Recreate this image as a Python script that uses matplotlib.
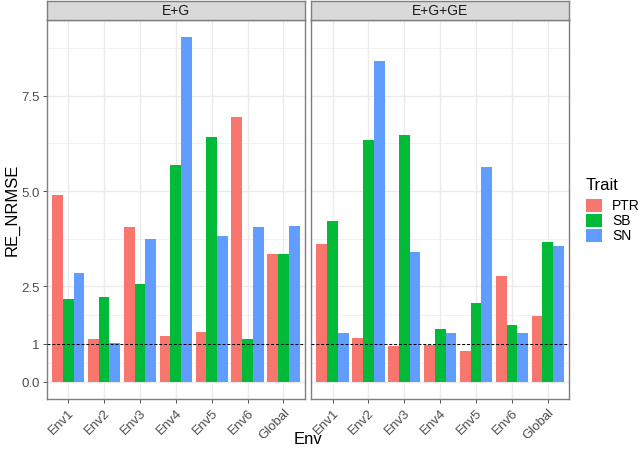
import matplotlib
matplotlib.use("Agg")
import matplotlib.pyplot as plt
from matplotlib.patches import Rectangle
import numpy as np

plt.rcParams['font.family'] = ['Liberation Sans', 'DejaVu Sans']

envs = ["Env1", "Env2", "Env3", "Env4", "Env5", "Env6", "Global"]
traits = ["PTR", "SB", "SN"]
colors = ["#F8766D", "#00BA38", "#619CFF"]
facets = ["E+G", "E+G+GE"]

eg_ptr = [4.90, 1.13, 4.07, 1.19, 1.31, 6.93, 3.34]
eg_sb = [2.18, 2.21, 2.56, 5.68, 6.41, 1.12, 3.36]
eg_sn = [2.85, 1.02, 3.74, 9.04, 3.82, 4.07, 4.09]

egge_ptr = [3.61, 1.15, 0.94, 0.96, 0.81, 2.77, 1.73]
egge_sb = [4.21, 6.33, 6.46, 1.39, 2.07, 1.50, 3.67]
egge_sn = [1.28, 8.42, 3.41, 1.28, 5.62, 1.29, 3.56]

data = {
    "E+G": [eg_ptr, eg_sb, eg_sn],
    "E+G+GE": [egge_ptr, egge_sb, egge_sn],
}

y_breaks = [0.0, 1, 2.5, 5.0, 7.5]
y_labels = ["0.0", "1", "2.5", "5.0", "7.5"]
minor_breaks = [0.5, 1.75, 3.75, 6.25, 8.75]

W, H = 643, 452
fig = plt.figure(figsize=(W / 100, H / 100), dpi=100)

panels = [(46.7, 305.0), (311.0, 569.3)]
top_px, bot_px, strip_top = 20.7, 400.0, 2.0
border_col = "#7f7f7f"
grid_col = "#ebebeb"

ymax = max(max(max(s) for s in v) for v in data.values())
ylim = (-0.05 * ymax, ymax * 1.05)
x = np.arange(1, len(envs) + 1)
bw = 0.3

for i, (facet, (lpx, rpx)) in enumerate(zip(facets, panels)):
    ax = fig.add_axes([lpx / W, 1 - bot_px / H, (rpx - lpx) / W, (bot_px - top_px) / H])
    ax.set_facecolor("white")
    ax.set_xlim(0.4, len(envs) + 0.6)
    ax.set_ylim(*ylim)
    for yb in minor_breaks:
        ax.axhline(yb, color=grid_col, lw=0.5, zorder=0)
    for yb in y_breaks:
        ax.axhline(yb, color=grid_col, lw=1.0, zorder=0)
    for xb in x:
        ax.axvline(xb, color=grid_col, lw=1.0, zorder=0)
    for j, (vals, c) in enumerate(zip(data[facet], colors)):
        ax.bar(x + (j - 1) * bw, vals, width=bw, color=c, linewidth=0, zorder=2)
    ax.axhline(1, color="black", lw=0.7, ls=(0, (3, 2)), zorder=3)
    ax.set_xticks(x)
    ax.set_xticklabels(envs, rotation=45, ha="right", va="top",
                       rotation_mode="anchor", fontsize=9.5, color="#4d4d4d")
    ax.set_yticks(y_breaks)
    ax.tick_params(axis="both", length=3, width=0.6, color="#333333", pad=2)
    if i == 0:
        ax.set_yticklabels(y_labels, fontsize=9.5, color="#4d4d4d")
    else:
        ax.set_yticklabels([])
        ax.tick_params(axis="y", length=0)
    for sp in ax.spines.values():
        sp.set_color(border_col)
        sp.set_linewidth(1.0)
    # strip
    sax = fig.add_axes([lpx / W, 1 - top_px / H, (rpx - lpx) / W, (top_px - strip_top) / H])
    sax.set_facecolor("#d9d9d9")
    sax.set_xticks([])
    sax.set_yticks([])
    for sp in sax.spines.values():
        sp.set_color(border_col)
        sp.set_linewidth(1.0)
    sax.text(0.5, 0.5, facet, ha="center", va="center", fontsize=10,
             color="#1a1a1a", transform=sax.transAxes)

fig.text(308 / W, 1 - 440 / H, "Env", ha="center", va="center", fontsize=12)
fig.text(12 / W, 1 - 210 / H, "RE_NRMSE", ha="center", va="center",
         rotation=90, fontsize=12)

# legend
fig.text(586 / W, 1 - 186 / H, "Trait", ha="left", va="center", fontsize=12)
key_y = [206, 221, 236]
for t, c, ky in zip(traits, colors, key_y):
    fig.patches.append(Rectangle((586 / W, 1 - (ky + 6.5) / H), 16 / W, 13 / H,
                                 transform=fig.transFigure, color=c, lw=0))
    fig.text(612 / W, 1 - ky / H, t, ha="left", va="center", fontsize=10)

fig.savefig("out.png", dpi=100)
